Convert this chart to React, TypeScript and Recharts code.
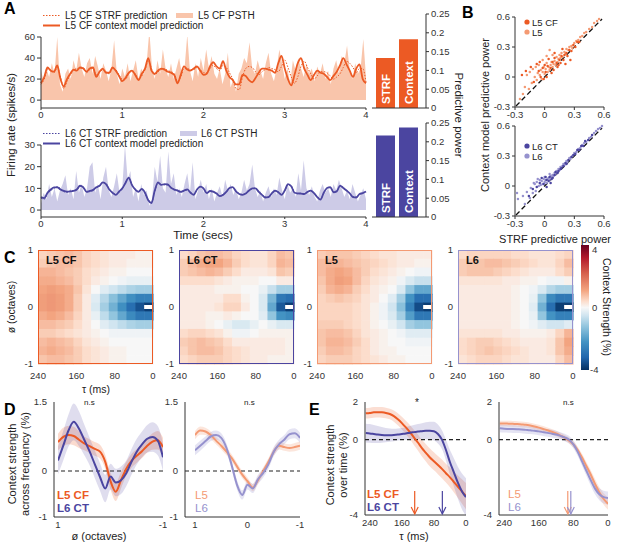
import React from "react";
import {
  ComposedChart,
  Line,
  Area,
  XAxis,
  YAxis,
  BarChart,
  Bar,
  LabelList,
  ScatterChart,
  Scatter,
  ReferenceLine,
  ReferenceDot,
} from "recharts";

const FONT = "'Liberation Sans', Arial, sans-serif";
const TICK = { fontSize: 9.5, fill: "#333", fontFamily: FONT };
const AX = "#333";

const C_L5CF = "#EC5A24";
const C_L5 = "#F49A73";
const C_L6CT = "#4B45A0";
const C_L6 = "#9692CE";
const C_PSTH5 = "#F9C5AB";
const C_PSTH6 = "#CDCBE7";

// ---- panel A: traces (PSTH every 1/30 s, predictions every 40 ms) ----
const PSTH_DT = 1 / 30;
const PRED_DT = 0.04;
const TIME_TICKS = [0, 1, 2, 3, 4];

const l5Psth = [
  28, 18, 30, 22, 35, 25, 60, 15, 8, 25, 30, 20, 38, 28, 45, 30, 22, 35, 40, 25,
  42, 32, 20, 35, 28, 18, 30, 57, 25, 15, 30, 22, 35, 18, 28, 38, 20, 30, 24, 35,
  66, 30, 20, 38, 25, 48, 30, 22, 35, 20, 30, 40, 25, 30, 62, 28, 18, 35, 22, 40,
  28, 48, 30, 42, 25, 20, 30, 15, 25, 45, 12, 20, 8, 25, 30, 40, 35, 55, 30, 25,
  38, 28, 20, 35, 45, 25, 18, 30, 48, 35, 20, 30, 15, 38, 28, 40, 30, 22, 35, 25,
  30, 18, 32, 25, 35, 20, 28, 15, 30, 38, 25, 42, 35, 52, 28, 20, 35, 25, 30, 58,
  22,
];
const l5Context = [
  16, 22, 31, 28, 27, 33, 20, 13, 20, 25, 29, 28, 31, 30, 27, 30, 31, 22, 27, 30,
  26, 26, 31, 28, 23, 18, 21, 26, 28, 24, 19, 25, 30, 40, 28, 25, 28, 30, 29, 27,
  26, 24, 16, 24, 32, 29, 28, 30, 32, 28, 24, 25, 32, 36, 32, 30, 37, 28, 22, 19,
  15, 15, 24, 23, 19, 17, 21, 26, 30, 30, 29, 28, 26, 35, 42, 30, 20, 14, 24, 35,
  40, 30, 24, 19, 24, 28, 26, 25, 22, 19, 23, 27, 33, 40, 34, 28, 22, 30, 34, 20,
  16,
];
const l5Strf = [
  15, 20, 29, 29, 26, 31, 22, 11, 18, 24, 28, 30, 30, 31, 26, 29, 30, 24, 26, 29,
  27, 25, 30, 29, 24, 20, 20, 25, 27, 25, 20, 23, 29, 37, 30, 24, 27, 29, 30, 28,
  27, 25, 18, 22, 30, 30, 29, 29, 31, 29, 26, 26, 30, 33, 30, 28, 33, 31, 26, 20,
  11, 10, 22, 30, 32, 31, 27, 24, 27, 29, 31, 30, 29, 27, 32, 38, 31, 22, 16, 22,
  32, 37, 31, 25, 20, 23, 27, 27, 26, 23, 20, 22, 25, 31, 37, 35, 31, 26, 30, 30,
  17,
];
const l6Psth = [
  3, 8, 5, 12, 6, 10, 4, 9, 12, 16, 7, 10, 5, 18, 8, 12, 6, 10, 20, 22,
  8, 12, 5, 15, 20, 9, 6, 11, 17, 8, 10, 30, 14, 18, 6, 10, 4, 12, 7, 9,
  2, 5, 20, 13, 25, 10, 8, 27, 12, 17, 7, 10, 6, 12, 17, 8, 22, 5, 9, 14,
  8, 12, 5, 10, 4, 8, 11, 6, 14, 9, 12, 7, 10, 5, 8, 14, 9, 12, 21, 10,
  6, 9, 4, 8, 11, 6, 10, 7, 15, 9, 5, 12, 8, 10, 6, 17, 9, 23, 10, 7,
  11, 6, 4, 9, 12, 8, 10, 6, 12, 9, 14, 10, 6, 9, 5, 12, 8, 4, 7, 10,
  5,
];
const l6Context = [
  6, 5.5, 8, 9.5, 10.5, 10.5, 9.5, 8.8, 8.5, 8.6, 8.8, 9.5, 11.2, 10.5, 8.4, 8.8, 9.2, 10.5, 11.2, 12.8,
  12, 9.5, 8, 7, 8.5, 10, 12.5, 15, 11.5, 9.5, 8.4, 9.8, 8, 4.5, 3.2, 9, 12.8, 11.6, 12, 11.8,
  10.3, 9.5, 9, 8.4, 9, 9.5, 8, 7, 9.5, 10.8, 10, 7.8, 8.8, 8.5, 7.6, 6.4, 7, 8.4, 10.2, 10.6,
  8.6, 7.4, 7, 7.6, 9, 10, 10, 8.4, 7, 5.8, 6, 7.7, 9, 8.2, 7, 9, 12, 11, 8, 7.7,
  7.6, 7.4, 8.4, 9, 7.8, 6, 4.8, 8, 10.2, 10.6, 8.2, 8.6, 11.3, 10.2, 9, 7.7, 6, 5.8, 7.4, 7.8,
  8.6,
];
const l6Strf = [
  5.5, 5, 7.5, 9, 10, 10.8, 9.8, 8.5, 8.2, 8.8, 9, 9.2, 11, 10.8, 8.6, 8.5, 9.5, 10.2, 11, 12.5,
  12.2, 9.8, 8.2, 7.2, 8.2, 9.8, 12.8, 14.6, 11.8, 9.2, 8.6, 9.5, 7.6, 4.8, 3.6, 8.6, 12.5, 11.8, 11.6, 11.5,
  10.5, 9.2, 9.2, 8.6, 8.8, 9.2, 8.2, 7.3, 9.2, 10.5, 10.2, 8, 8.6, 8.3, 7.8, 6.6, 7.2, 8.2, 10, 10.4,
  8.8, 7.6, 7.2, 7.4, 8.8, 9.8, 10.2, 8.6, 7.2, 6, 6.2, 7.5, 8.8, 8.4, 7.2, 8.8, 11.6, 11.2, 8.2, 7.5,
  7.8, 7.6, 8.2, 8.8, 8, 6.2, 5, 7.8, 10, 10.4, 8.4, 8.8, 11, 10.4, 9.2, 7.5, 6.2, 6, 7.2, 8,
  8.4,
];

// predictive power bars
const BAR_NAMES = ["STRF", "Context"];
const l5Power = [0.133, 0.183];
const l6Power = [0.217, 0.238];
const POWER_TICKS = [0, 0.05, 0.1, 0.15, 0.2, 0.25];

// ---- panel B: STRF vs context predictive power ----
const PP_TICKS = [-0.3, 0, 0.3, 0.6];
const l5Points = [
  [-0.22, -0.17], [-0.2, -0.1], [-0.18, 0.02], [-0.15, 0.05], [-0.13, -0.06], [-0.12, 0.08], [-0.1, 0.0],
  [-0.09, 0.1], [-0.08, -0.03], [-0.07, 0.04], [-0.06, 0.12], [-0.05, 0.02], [-0.04, 0.07], [-0.03, -0.02],
  [-0.02, 0.05], [-0.01, 0.1], [0.0, 0.03], [0.01, 0.08], [0.02, 0.14], [0.03, 0.05], [0.04, 0.1],
  [0.05, 0.07], [0.06, 0.12], [0.07, 0.15], [0.08, 0.1], [0.09, 0.13], [0.1, 0.16], [0.11, 0.12],
  [0.12, 0.2], [0.13, 0.15], [0.14, 0.18], [0.15, 0.22], [0.16, 0.19], [0.17, 0.24], [0.18, 0.2],
  [0.2, 0.25], [0.21, 0.23], [0.22, 0.28], [0.24, 0.27], [0.25, 0.3], [0.27, 0.31], [0.28, 0.29],
  [0.3, 0.34], [0.32, 0.36], [0.34, 0.37], [0.36, 0.4], [0.38, 0.41], [0.4, 0.44], [0.42, 0.45],
  [0.45, 0.48], [0.48, 0.5], [0.5, 0.54], [0.53, 0.56], [0.55, 0.58], [-0.25, -0.22], [-0.16, -0.12],
  [0.08, 0.22], [0.02, 0.21], [-0.02, 0.17], [0.05, 0.27],
];
const l5cfPoints = [
  [-0.23, 0.02], [-0.19, 0.06], [-0.14, 0.1], [-0.11, -0.05], [-0.08, 0.13], [-0.06, 0.06], [-0.04, 0.0],
  [-0.02, 0.09], [0.0, 0.12], [0.01, 0.05], [0.03, 0.11], [0.04, 0.18], [0.06, 0.09], [0.08, 0.15],
  [0.09, 0.07], [0.1, 0.19], [0.12, 0.14], [0.13, 0.1], [0.15, 0.17], [0.17, 0.21], [0.19, 0.17],
  [0.2, 0.22], [0.22, 0.24], [0.23, 0.21], [0.25, 0.27], [0.27, 0.26], [0.29, 0.32], [0.31, 0.3],
  [0.33, 0.35], [0.35, 0.35], [0.21, 0.13], [0.26, 0.17], [0.18, 0.28], [0.1, 0.24], [-0.05, 0.15],
  [0.07, 0.04], [0.02, 0.0], [-0.01, -0.02], [0.14, 0.12], [0.16, 0.14],
];
const l6Points = [
  [-0.28, -0.07], [-0.27, -0.13], [-0.22, -0.1], [-0.2, -0.18], [-0.18, -0.06], [-0.15, -0.12], [-0.14, -0.02],
  [-0.12, -0.07], [-0.1, 0.02], [-0.09, -0.05], [-0.08, 0.04], [-0.06, 0.0], [-0.05, 0.06], [-0.04, 0.01],
  [-0.03, 0.05], [-0.02, 0.02], [-0.01, 0.07], [0.0, 0.04], [0.01, 0.06], [0.02, 0.03], [0.03, 0.07],
  [0.04, 0.08], [0.05, 0.06], [0.06, 0.1], [0.07, 0.09], [0.08, 0.11], [0.09, 0.1], [0.1, 0.13],
  [0.11, 0.12], [0.12, 0.15], [0.13, 0.14], [0.14, 0.17], [0.15, 0.16], [0.16, 0.19], [0.18, 0.2],
  [0.19, 0.22], [0.2, 0.21], [0.22, 0.25], [0.23, 0.24], [0.25, 0.28], [0.26, 0.27], [0.28, 0.3],
  [0.3, 0.33], [0.32, 0.34], [0.34, 0.37], [0.36, 0.38], [0.38, 0.41], [0.4, 0.43], [0.42, 0.44],
  [0.45, 0.48], [0.47, 0.49], [0.5, 0.53], [0.52, 0.55], [0.54, 0.57], [0.56, 0.58], [0.58, 0.6],
  [-0.07, 0.07], [0.0, 0.09], [0.05, 0.12], [-0.11, 0.03],
];
const l6ctPoints = [
  [-0.16, -0.1], [-0.12, -0.03], [-0.08, -0.01], [-0.05, 0.03], [-0.03, 0.08], [-0.01, 0.02], [0.01, 0.09],
  [0.02, 0.06], [0.04, 0.05], [0.05, 0.09], [0.07, 0.07], [0.08, 0.08], [0.1, 0.11], [0.11, 0.14],
  [0.13, 0.13], [0.14, 0.15], [0.16, 0.17], [0.17, 0.18], [0.19, 0.2], [0.21, 0.23], [0.22, 0.22],
  [0.24, 0.26], [0.27, 0.29], [0.29, 0.31], [0.31, 0.32], [0.33, 0.36], [0.35, 0.36], [0.37, 0.4],
  [0.39, 0.4], [0.41, 0.45], [0.44, 0.46], [0.48, 0.51], [0.02, -0.01], [0.06, 0.03],
];

// ---- panel C: context weights, rows phi 1 -> -1, cols tau 240 -> 0 ms ----
const TAU_TICKS = [240, 160, 80, 0];
const heatL5cf = [
  [0.5, 0.6, 0.7, 0.8, 0.7, 0.5, 0.4, 0.3, 0.2, 0.2, 0.2, 0.1, 0.1],
  [0.6, 0.7, 0.8, 0.8, 0.7, 0.5, 0.4, 0.3, 0.2, 0.2, 0.1, 0.1, 0.1],
  [0.9, 0.9, 0.8, 0.7, 0.6, 0.4, 0.3, 0.2, 0.1, 0.1, 0.0, 0.0, 0.0],
  [1.0, 1.0, 0.9, 0.8, 0.6, 0.4, 0.2, 0.1, 0.0, -0.1, -0.2, -0.2, -0.2],
  [1.1, 1.2, 1.1, 1.0, 0.7, 0.3, 0.0, -0.3, -0.5, -0.7, -0.9, -1.0, -1.0],
  [1.2, 1.3, 1.2, 1.0, 0.6, 0.2, -0.3, -0.8, -1.3, -1.8, -2.3, -2.6, -2.6],
  [1.2, 1.3, 1.2, 1.0, 0.6, 0.2, -0.4, -1.0, -1.6, -2.3, -3.0, -3.5, -3.8],
  [1.0, 1.1, 1.0, 0.8, 0.5, 0.2, -0.2, -0.7, -1.2, -1.8, -2.4, -2.8, -2.8],
  [0.8, 0.8, 0.7, 0.6, 0.4, 0.2, 0.0, -0.3, -0.5, -0.7, -0.9, -1.0, -1.0],
  [0.6, 0.6, 0.5, 0.4, 0.3, 0.2, 0.1, 0.0, -0.1, -0.1, -0.1, -0.1, -0.1],
  [0.8, 0.9, 0.8, 0.7, 0.5, 0.3, 0.2, 0.1, 0.0, 0.0, 0.0, 0.0, 0.0],
  [0.9, 1.0, 0.9, 0.8, 0.6, 0.4, 0.3, 0.2, 0.1, 0.1, 0.0, 0.0, 0.0],
  [0.7, 0.8, 0.8, 0.7, 0.6, 0.4, 0.3, 0.2, 0.1, 0.1, 0.0, 0.0, 0.0],
];
const heatL6ct = [
  [0.4, 0.5, 0.7, 0.8, 0.8, 0.7, 0.5, 0.4, 0.3, 0.3, 0.5, 0.8, 0.7],
  [0.6, 0.8, 1.0, 1.1, 1.1, 0.9, 0.6, 0.4, 0.3, 0.3, 0.5, 0.9, 0.8],
  [0.6, 0.7, 0.8, 0.9, 0.8, 0.6, 0.4, 0.2, 0.2, 0.2, 0.3, 0.7, 0.6],
  [0.4, 0.4, 0.4, 0.4, 0.3, 0.2, 0.1, 0.1, 0.1, 0.0, 0.0, 0.2, 0.2],
  [0.2, 0.2, 0.2, 0.2, 0.1, 0.1, 0.1, 0.0, 0.0, -0.2, -0.6, -1.0, -1.0],
  [0.2, 0.2, 0.2, 0.2, 0.2, 0.4, 0.4, 0.1, 0.0, -0.4, -1.5, -2.8, -3.0],
  [0.2, 0.2, 0.2, 0.2, 0.3, 0.5, 0.5, 0.2, 0.0, -0.4, -1.8, -3.4, -3.8],
  [0.2, 0.2, 0.2, 0.1, 0.1, 0.2, 0.1, 0.0, 0.0, -0.3, -1.2, -2.2, -2.4],
  [0.2, 0.2, 0.2, 0.1, 0.0, -0.2, -0.4, -0.4, -0.2, 0.0, -0.2, -0.4, -0.4],
  [0.4, 0.5, 0.5, 0.4, 0.3, 0.1, -0.1, -0.1, 0.0, 0.1, 0.1, 0.1, 0.1],
  [0.6, 0.7, 0.8, 0.7, 0.6, 0.4, 0.2, 0.2, 0.2, 0.2, 0.2, 0.2, 0.1],
  [0.5, 0.7, 0.8, 0.8, 0.7, 0.5, 0.4, 0.3, 0.2, 0.2, 0.2, 0.2, 0.1],
  [0.4, 0.5, 0.6, 0.6, 0.6, 0.5, 0.4, 0.3, 0.2, 0.2, 0.1, 0.1, 0.1],
];
const heatL5 = [
  [0.6, 0.7, 0.7, 0.7, 0.6, 0.5, 0.4, 0.3, 0.3, 0.2, 0.2, 0.2, 0.2],
  [0.8, 0.9, 0.9, 0.8, 0.7, 0.6, 0.5, 0.4, 0.3, 0.2, 0.2, 0.1, 0.1],
  [0.8, 1.0, 1.1, 1.0, 0.8, 0.6, 0.4, 0.3, 0.2, 0.1, 0.0, -0.1, -0.1],
  [0.7, 1.0, 1.2, 1.1, 0.8, 0.5, 0.3, 0.2, 0.1, -0.1, -0.4, -0.6, -0.6],
  [0.6, 0.9, 1.0, 0.9, 0.6, 0.4, 0.2, 0.1, 0.0, -0.4, -1.2, -1.8, -1.8],
  [0.5, 0.6, 0.7, 0.6, 0.5, 0.3, 0.2, 0.0, -0.3, -1.0, -2.2, -3.0, -3.0],
  [0.5, 0.5, 0.5, 0.5, 0.4, 0.3, 0.1, -0.1, -0.5, -1.3, -2.6, -3.6, -3.8],
  [0.5, 0.5, 0.5, 0.5, 0.4, 0.3, 0.1, -0.1, -0.4, -1.0, -2.0, -2.8, -2.8],
  [0.6, 0.6, 0.6, 0.5, 0.4, 0.3, 0.1, 0.0, -0.2, -0.5, -1.0, -1.2, -1.2],
  [0.7, 0.8, 0.8, 0.7, 0.5, 0.3, 0.2, 0.1, 0.0, -0.1, -0.3, -0.3, -0.3],
  [0.7, 0.9, 0.9, 0.8, 0.6, 0.4, 0.2, 0.1, 0.0, 0.0, -0.1, -0.1, -0.1],
  [0.6, 0.8, 0.8, 0.7, 0.5, 0.4, 0.2, 0.1, 0.1, 0.0, 0.0, 0.0, 0.0],
  [0.5, 0.6, 0.6, 0.6, 0.5, 0.4, 0.3, 0.2, 0.1, 0.1, 0.0, 0.0, 0.0],
];
const heatL6 = [
  [0.4, 0.5, 0.5, 0.5, 0.5, 0.5, 0.4, 0.4, 0.3, 0.3, 0.3, 0.4, 0.5],
  [0.6, 0.7, 0.7, 0.8, 0.8, 0.7, 0.6, 0.5, 0.4, 0.3, 0.3, 0.5, 0.8],
  [0.6, 0.7, 0.7, 0.7, 0.6, 0.5, 0.4, 0.3, 0.2, 0.2, 0.2, 0.4, 0.6],
  [0.3, 0.3, 0.3, 0.3, 0.3, 0.2, 0.2, 0.1, 0.1, 0.0, -0.1, -0.1, 0.1],
  [0.2, 0.2, 0.2, 0.2, 0.2, 0.2, 0.1, 0.0, -0.1, -0.4, -0.8, -1.0, -1.0],
  [0.2, 0.2, 0.2, 0.2, 0.2, 0.2, 0.1, 0.0, -0.2, -1.2, -2.4, -2.8, -2.8],
  [0.2, 0.2, 0.2, 0.2, 0.2, 0.2, 0.1, 0.0, -0.3, -1.6, -3.0, -3.8, -3.8],
  [0.2, 0.2, 0.2, 0.2, 0.2, 0.2, 0.1, 0.0, -0.2, -1.2, -2.2, -2.6, -2.6],
  [0.2, 0.2, 0.2, 0.2, 0.2, 0.2, 0.1, 0.0, -0.1, -0.3, -0.5, -0.5, -0.3],
  [0.3, 0.3, 0.3, 0.3, 0.3, 0.2, 0.2, 0.1, 0.1, 0.1, 0.2, 0.5, 0.9],
  [0.4, 0.5, 0.6, 0.6, 0.5, 0.4, 0.3, 0.2, 0.2, 0.2, 0.3, 0.7, 1.1],
  [0.4, 0.5, 0.6, 0.7, 0.6, 0.5, 0.4, 0.3, 0.2, 0.2, 0.3, 0.7, 1.0],
  [0.3, 0.4, 0.5, 0.5, 0.5, 0.4, 0.3, 0.3, 0.2, 0.2, 0.2, 0.5, 0.8],
];

// ---- panel D: context strength across frequency ----
const PHI = [1, 0.9, 0.8, 0.7, 0.6, 0.5, 0.4, 0.3, 0.2, 0.1, 0, -0.1, -0.2, -0.3, -0.4, -0.5, -0.6, -0.7, -0.8, -0.9, -1];
const dL5cf = [0.63, 0.74, 0.78, 0.76, 0.68, 0.6, 0.54, 0.48, 0.42, 0.2, -0.22, -0.45, -0.2, 0.05, 0.22, 0.33, 0.43, 0.55, 0.64, 0.67, 0.52];
const dL5cfSem = [0.18, 0.2, 0.2, 0.2, 0.18, 0.15, 0.15, 0.15, 0.15, 0.15, 0.18, 0.2, 0.18, 0.15, 0.15, 0.15, 0.15, 0.15, 0.18, 0.2, 0.2];
const dL6ct = [0.23, 0.55, 0.88, 1.07, 0.92, 0.68, 0.43, 0.15, -0.13, -0.38, -0.12, -0.25, -0.2, -0.05, 0.2, 0.42, 0.58, 0.7, 0.74, 0.66, 0.3];
const dL6ctSem = [0.3, 0.32, 0.35, 0.4, 0.38, 0.33, 0.3, 0.3, 0.3, 0.3, 0.28, 0.3, 0.3, 0.28, 0.28, 0.28, 0.28, 0.3, 0.32, 0.32, 0.3];
const dL5 = [0.78, 0.88, 0.86, 0.78, 0.66, 0.55, 0.42, 0.28, 0.1, -0.08, -0.22, -0.36, -0.2, 0.0, 0.2, 0.42, 0.55, 0.52, 0.5, 0.52, 0.55];
const dL5Sem = [0.09, 0.09, 0.08, 0.08, 0.08, 0.08, 0.08, 0.08, 0.08, 0.08, 0.08, 0.08, 0.08, 0.08, 0.08, 0.08, 0.08, 0.08, 0.08, 0.09, 0.09];
const dL6 = [0.45, 0.55, 0.65, 0.75, 0.78, 0.72, 0.5, 0.12, -0.3, -0.52, -0.3, -0.38, -0.18, -0.04, 0.15, 0.42, 0.58, 0.68, 0.8, 0.82, 0.72];
const dL6Sem = [0.11, 0.11, 0.1, 0.1, 0.1, 0.1, 0.1, 0.1, 0.1, 0.1, 0.1, 0.1, 0.1, 0.1, 0.1, 0.1, 0.1, 0.1, 0.11, 0.11, 0.11];

// ---- panel E: context strength over time ----
const TAU = [250, 240, 230, 220, 210, 200, 190, 180, 170, 160, 150, 140, 130, 120, 110, 100, 90, 80, 70, 60, 50, 40, 30, 20, 10, 0];
const eL5cf = [1.4, 1.42, 1.45, 1.46, 1.45, 1.42, 1.36, 1.25, 1.08, 0.88, 0.65, 0.4, 0.12, -0.15, -0.45, -0.7, -0.95, -1.15, -1.35, -1.55, -1.78, -2.0, -2.25, -2.5, -2.75, -3.0];
const eL5cfSem = [0.28, 0.28, 0.28, 0.28, 0.28, 0.28, 0.28, 0.3, 0.32, 0.34, 0.36, 0.38, 0.4, 0.42, 0.44, 0.46, 0.48, 0.48, 0.48, 0.5, 0.5, 0.52, 0.55, 0.6, 0.65, 0.7];
const eL6ct = [0.35, 0.33, 0.3, 0.27, 0.25, 0.24, 0.24, 0.25, 0.27, 0.3, 0.33, 0.37, 0.4, 0.43, 0.45, 0.47, 0.47, 0.45, 0.3, 0.0, -0.55, -1.2, -1.75, -2.3, -2.75, -3.05];
const eL6ctSem = [0.5, 0.5, 0.48, 0.45, 0.42, 0.38, 0.35, 0.33, 0.32, 0.32, 0.33, 0.35, 0.38, 0.4, 0.42, 0.45, 0.48, 0.5, 0.5, 0.5, 0.55, 0.65, 0.75, 0.85, 0.95, 1.0];
const eL5 = [0.86, 0.86, 0.85, 0.84, 0.83, 0.81, 0.79, 0.75, 0.7, 0.64, 0.57, 0.5, 0.42, 0.33, 0.22, 0.1, -0.05, -0.25, -0.55, -0.95, -1.4, -1.85, -2.35, -2.8, -3.15, -3.4];
const eL5Sem = [0.15, 0.15, 0.15, 0.15, 0.15, 0.15, 0.15, 0.15, 0.15, 0.15, 0.15, 0.15, 0.15, 0.15, 0.15, 0.15, 0.15, 0.16, 0.18, 0.2, 0.22, 0.24, 0.26, 0.28, 0.3, 0.32];
const eL6 = [0.6, 0.58, 0.57, 0.56, 0.55, 0.54, 0.52, 0.5, 0.47, 0.44, 0.4, 0.36, 0.32, 0.27, 0.2, 0.12, 0.0, -0.25, -0.65, -1.15, -1.65, -2.15, -2.6, -2.9, -3.05, -3.1];
const eL6Sem = [0.2, 0.2, 0.2, 0.2, 0.2, 0.2, 0.2, 0.2, 0.2, 0.2, 0.2, 0.2, 0.2, 0.2, 0.2, 0.2, 0.2, 0.2, 0.22, 0.24, 0.26, 0.28, 0.3, 0.32, 0.34, 0.35];
// zero-crossing latencies (arrows)
const crossLeft = [128, 59];
const crossRight = [93, 86];

// ------------------------------------------------------------------
// diverging map (value, rgb); same stops feed the colour bar
const HEAT_STOPS: [number, number[]][] = [
  [-4, [5, 48, 97]],
  [-3.2, [33, 102, 172]],
  [-2.2, [67, 147, 195]],
  [-1.2, [146, 197, 222]],
  [-0.5, [209, 229, 240]],
  [0, [247, 247, 247]],
  [0.4, [252, 221, 204]],
  [1.1, [243, 164, 128]],
  [2.2, [214, 96, 77]],
  [3.2, [178, 24, 43]],
  [4, [103, 0, 31]],
];
function heatColor(v: number) {
  const x = Math.max(-4, Math.min(4, v));
  let i = 0;
  while (i < HEAT_STOPS.length - 2 && x > HEAT_STOPS[i + 1][0]) i++;
  const [v0, a] = HEAT_STOPS[i];
  const [v1, b] = HEAT_STOPS[i + 1];
  const f = (x - v0) / (v1 - v0);
  const c = a.map((q, k) => Math.round(q + (b[k] - q) * f));
  return `rgb(${c[0]},${c[1]},${c[2]})`;
}
const COLORBAR_BG =
  "linear-gradient(to top, " +
  HEAT_STOPS.map(([v, c]) => `rgb(${c[0]},${c[1]},${c[2]}) ${((v + 4) / 8) * 100}%`).join(", ") +
  ")";

function TraceChart({ top, height, psth, strf, ctx, psthColor, color, yDomain, yTicks }: any) {
  const psthData = psth.map((v: number, i: number) => ({ t: i * PSTH_DT, v }));
  const strfData = strf.map((v: number, i: number) => ({ t: i * PRED_DT, v }));
  const ctxData = ctx.map((v: number, i: number) => ({ t: i * PRED_DT, v }));
  return (
    <div style={{ position: "absolute", left: 11, top }}>
      <ComposedChart width={362} height={height} margin={{ top: 5, right: 7, bottom: 0, left: 0 }}>
        <XAxis type="number" dataKey="t" domain={[0, 4]} ticks={TIME_TICKS} height={20} tickSize={2} tickMargin={1} tick={TICK} stroke={AX} interval={0} />
        <YAxis type="number" domain={yDomain} ticks={yTicks} width={30} tickSize={4} tick={TICK} stroke={AX} interval={0} allowDataOverflow />
        <Area data={psthData} dataKey="v" type="linear" stroke="none" fill={psthColor} fillOpacity={1} isAnimationActive={false} />
        <Line data={strfData} dataKey="v" type="monotone" stroke={color} strokeWidth={1} strokeDasharray="1.5 1.5" dot={false} isAnimationActive={false} />
        <Line data={ctxData} dataKey="v" type="monotone" stroke={color} strokeWidth={1.8} dot={false} isAnimationActive={false} />
      </ComposedChart>
    </div>
  );
}

const BarText = (p: any) => {
  const cx = p.x + p.width / 2;
  const by = p.y + p.height - 4;
  return (
    <text x={cx} y={by} transform={`rotate(-90 ${cx} ${by})`} fill="#fff" fontSize={11.5} fontWeight="bold" fontFamily={FONT} dominantBaseline="central" textAnchor="start">
      {p.value}
    </text>
  );
};

function PowerBars({ top, values, color }: any) {
  const data = BAR_NAMES.map((name, i) => ({ name, v: values[i] }));
  return (
    <div style={{ position: "absolute", left: 372, top }}>
      <BarChart width={88} height={107} data={data} margin={{ top: 5, right: 0, bottom: 7, left: 0 }}>
        <XAxis dataKey="name" tick={false} tickLine={false} height={1} padding={{ left: 2, right: 6 }} stroke={AX} />
        <YAxis orientation="right" domain={[0, 0.25]} ticks={POWER_TICKS} width={34} tickSize={3} tick={TICK} stroke={AX} interval={0} />
        <Bar dataKey="v" fill={color} barSize={19} isAnimationActive={false}>
          <LabelList dataKey="name" content={BarText} />
        </Bar>
      </BarChart>
    </div>
  );
}

const dotShape = (color: string) => (p: any) => <circle cx={p.cx} cy={p.cy} r={1.25} fill={color} />;

function PowerScatter({ top, light, dark, lightColor, darkColor }: any) {
  const toXY = (pts: number[][]) => pts.map(([x, y]) => ({ x, y }));
  return (
    <div style={{ position: "absolute", left: 491, top }}>
      <ScatterChart width={123} height={109} margin={{ top: 5, right: 10, bottom: 0, left: 0 }}>
        <XAxis type="number" dataKey="x" domain={[-0.3, 0.6]} ticks={PP_TICKS} height={14} tickSize={3} tickMargin={1} tick={TICK} stroke={AX} interval={0} />
        <YAxis type="number" dataKey="y" domain={[-0.3, 0.6]} ticks={PP_TICKS} width={24} tickSize={3} tickMargin={2} tick={TICK} stroke={AX} interval={0} />
        <Scatter data={toXY(light)} shape={dotShape(lightColor)} isAnimationActive={false} />
        <Scatter data={toXY(dark)} shape={dotShape(darkColor)} isAnimationActive={false} />
        <ReferenceLine segment={[{ x: -0.29, y: -0.29 }, { x: 0.58, y: 0.58 }]} stroke="#111" strokeDasharray="5 3" strokeWidth={1.3} />
      </ScatterChart>
    </div>
  );
}

const NCOL = 13;
const NROW = 13;
const BOX_W = 115;
const BOX_H = 114;

function Heatmap({ x, y, grid, border, name }: any) {
  const cells: { tau: number; phi: number; v: number }[] = [];
  grid.forEach((row: number[], j: number) =>
    row.forEach((v, i) => cells.push({ tau: 240 - ((i + 0.5) * 240) / NCOL, phi: 1 - ((j + 0.5) * 2) / NROW, v }))
  );
  const notch = [{ tau: 240 - (12.5 * 240) / NCOL, phi: 0 }];
  const cw = BOX_W / NCOL;
  const ch = BOX_H / NROW;
  return (
    <>
      <div style={{ position: "absolute", left: x - 18, top: y - 7 }}>
        <ScatterChart width={18 + BOX_W + 8} height={7 + BOX_H + 20} margin={{ top: 7, right: 8, bottom: 0, left: 0 }}>
          <XAxis type="number" dataKey="tau" domain={[0, 240]} reversed ticks={TAU_TICKS} height={20} axisLine={false} tickLine={false} tickSize={4} tickMargin={4} tick={TICK} interval={0} />
          <YAxis type="number" dataKey="phi" domain={[-1, 1]} ticks={[1, 0, -1]} width={18} axisLine={false} tickLine={false} tickSize={3} tick={TICK} interval={0} />
          <Scatter
            data={cells}
            isAnimationActive={false}
            shape={(p: any) => <rect x={p.cx - cw / 2} y={p.cy - ch / 2} width={cw + 0.6} height={ch + 0.6} fill={heatColor(p.payload.v)} />}
          />
          <Scatter data={notch} isAnimationActive={false} shape={(p: any) => <rect x={p.cx - cw / 2} y={p.cy - 2} width={cw} height={4} fill="#fff" />} />
        </ScatterChart>
      </div>
      <div style={{ position: "absolute", left: x, top: y, width: BOX_W, height: BOX_H, border: `1.5px solid ${border}`, boxSizing: "border-box" }} />
      <div style={{ position: "absolute", left: x + 8, top: y + 4, font: `bold 11px ${FONT}`, color: "#111" }}>{name}</div>
    </>
  );
}

const Arrow = ({ cx, cy, color }: any) => (
  <g stroke={color} strokeWidth={1.2} fill="none">
    <line x1={cx} y1={cy - 1} x2={cx} y2={cy - 24} />
    <polyline points={`${cx - 3.5},${cy - 8} ${cx},${cy - 1} ${cx + 3.5},${cy - 8}`} />
  </g>
);

function CurveChart({ left, top, width, height, xs, curves, xDomain, xTicks, xPad, yDomain, yTicks, arrows }: any) {
  const rows = xs.map((x: number, i: number) => {
    const row: Record<string, any> = { x };
    curves.forEach((c: any, k: number) => {
      row["m" + k] = c.mean[i];
      row["b" + k] = [c.mean[i] - c.sem[i], c.mean[i] + c.sem[i]];
    });
    return row;
  });
  return (
    <div style={{ position: "absolute", left, top: top - 6 }}>
      <ComposedChart width={width} height={height + 6} data={rows} margin={{ top: 10, right: 4, bottom: 0, left: 0 }}>
        <XAxis type="number" dataKey="x" domain={xDomain} reversed ticks={xTicks} padding={{ left: xPad, right: 0 }} height={16} tickLine={false} tickSize={2} tickMargin={2} tick={TICK} stroke={AX} interval={0} allowDataOverflow />
        <YAxis type="number" domain={yDomain} ticks={yTicks} width={22} tickLine={false} tickSize={4} tickMargin={3} tick={TICK} stroke={AX} interval={0} allowDataOverflow />
        <ReferenceLine y={0} stroke="#222" strokeDasharray="4 3" strokeWidth={1.1} />
        {curves.map((c: any, k: number) => (
          <Area key={"a" + k} dataKey={"b" + k} type="monotone" stroke="none" fill={c.color} fillOpacity={c.band} isAnimationActive={false} />
        ))}
        {curves.map((c: any, k: number) => (
          <Line key={"l" + k} dataKey={"m" + k} type="monotone" stroke={c.color} strokeWidth={2} dot={false} isAnimationActive={false} />
        ))}
        {(arrows || []).map((a: any, k: number) => (
          <ReferenceDot key={"r" + k} x={a.x} y={yDomain[0]} r={0} ifOverflow="visible" shape={(p: any) => <Arrow cx={p.cx} cy={p.cy} color={a.color} />} />
        ))}
      </ComposedChart>
    </div>
  );
}

function Txt({ x, y, size = 10, weight, color = "#222", anchor = "start", rotate, children }: any) {
  return (
    <text
      x={x}
      y={y}
      fontSize={size}
      fontWeight={weight}
      fill={color}
      textAnchor={anchor}
      fontFamily={FONT}
      dominantBaseline={rotate ? "central" : undefined}
      transform={rotate ? `rotate(${rotate} ${x} ${y})` : undefined}
    >
      {children}
    </text>
  );
}

function Overlay() {
  return (
    <svg width={617} height={544} style={{ position: "absolute", left: 0, top: 0, pointerEvents: "none" }}>
      {/* panel letters */}
      <Txt x={4} y={14} size={16} weight="bold" color="#000">A</Txt>
      <Txt x={462} y={18} size={16} weight="bold" color="#000">B</Txt>
      <Txt x={4} y={263} size={16} weight="bold" color="#000">C</Txt>
      <Txt x={4} y={415} size={16} weight="bold" color="#000">D</Txt>
      <Txt x={309} y={415} size={16} weight="bold" color="#000">E</Txt>

      {/* A legends */}
      <line x1={43} x2={60} y1={15.5} y2={15.5} stroke={C_L5CF} strokeWidth={1.2} strokeDasharray="1.5 1.5" />
      <Txt x={65} y={19}>L5 CF STRF prediction</Txt>
      <rect x={176} y={13} width={17} height={5} fill={C_PSTH5} />
      <Txt x={198} y={19}>L5 CF PSTH</Txt>
      <line x1={43} x2={60} y1={25.5} y2={25.5} stroke={C_L5CF} strokeWidth={2} />
      <Txt x={65} y={29}>L5 CF context model prediction</Txt>

      <line x1={43} x2={60} y1={133.5} y2={133.5} stroke={C_L6CT} strokeWidth={1.2} strokeDasharray="1.5 1.5" />
      <Txt x={65} y={137}>L6 CT STRF prediction</Txt>
      <rect x={180} y={131} width={17} height={5} fill={C_PSTH6} />
      <Txt x={201} y={137}>L6 CT PSTH</Txt>
      <line x1={43} x2={60} y1={143.5} y2={143.5} stroke={C_L6CT} strokeWidth={2} />
      <Txt x={65} y={147}>L6 CT context model prediction</Txt>

      <Txt x={11} y={125} size={11.5} anchor="middle" rotate={-90}>Firing rate (spikes/s)</Txt>
      <Txt x={459} y={115} size={11.5} anchor="middle" rotate={90}>Predictive power</Txt>
      <Txt x={203} y={239} size={11.5} anchor="middle">Time (secs)</Txt>

      {/* B */}
      <circle cx={527} cy={22} r={2.6} fill={C_L5CF} />
      <Txt x={532} y={25.5} size={9.5}>L5 CF</Txt>
      <circle cx={527} cy={32} r={2.6} fill={C_L5} />
      <Txt x={532} y={35.5} size={9.5}>L5</Txt>
      <circle cx={527} cy={146} r={2.6} fill={C_L6CT} />
      <Txt x={532} y={149.5} size={9.5}>L6 CT</Txt>
      <circle cx={527} cy={156} r={2.6} fill={C_L6} />
      <Txt x={532} y={159.5} size={9.5}>L6</Txt>
      <Txt x={485} y={115} size={11} anchor="middle" rotate={-90}>Context model predictive power</Txt>
      <Txt x={555} y={243} size={11} anchor="middle">STRF predictive power</Txt>

      {/* C */}
      <Txt x={11} y={307} size={10.5} anchor="middle" rotate={-90}>ø (octaves)</Txt>
      <Txt x={96} y={393} size={10.5} anchor="middle">τ (ms)</Txt>
      <Txt x={592} y={253} size={9.5} color="#333">4</Txt>
      <Txt x={592} y={311} size={9.5} color="#333">0</Txt>
      <Txt x={590} y={373} size={9.5} color="#333">-4</Txt>
      <Txt x={607} y={307} size={10.5} anchor="middle" rotate={90}>Context Strength (%)</Txt>

      {/* D */}
      <Txt x={12} y={464} size={11} anchor="middle" rotate={-90}>Context strength</Txt>
      <Txt x={25} y={464} size={11} anchor="middle" rotate={-90}>across frequency (%)</Txt>
      <Txt x={99} y={540} size={11} anchor="middle">ø (octaves)</Txt>
      <Txt x={84} y={405} size={8}>n.s</Txt>
      <Txt x={244} y={405} size={8}>n.s</Txt>
      <Txt x={57} y={499} size={11.5} weight="bold" color={C_L5CF}>L5 CF</Txt>
      <Txt x={57} y={512} size={11.5} weight="bold" color={C_L6CT}>L6 CT</Txt>
      <Txt x={195} y={499} size={11.5} color={C_L5}>L5</Txt>
      <Txt x={195} y={512} size={11.5} color={C_L6}>L6</Txt>

      {/* E */}
      <Txt x={330} y={465} size={11} anchor="middle" rotate={-90}>Context strength</Txt>
      <Txt x={343} y={465} size={11} anchor="middle" rotate={-90}>over time (%)</Txt>
      <Txt x={414} y={540} size={11} anchor="middle">τ (ms)</Txt>
      <Txt x={415} y={406} size={10}>*</Txt>
      <Txt x={563} y={405} size={8}>n.s</Txt>
      <Txt x={367} y={498} size={11.5} weight="bold" color={C_L5CF}>L5 CF</Txt>
      <Txt x={367} y={511} size={11.5} weight="bold" color={C_L6CT}>L6 CT</Txt>
      <Txt x={508} y={498} size={11.5} color={C_L5}>L5</Txt>
      <Txt x={508} y={511} size={11.5} color={C_L6}>L6</Txt>
    </svg>
  );
}

export default function App() {
  return (
    <div style={{ position: "absolute", left: 0, top: 0, width: 617, height: 544, background: "#fff", fontFamily: FONT }}>
      <TraceChart top={32} height={96} psth={l5Psth} strf={l5Strf} ctx={l5Context} psthColor={C_PSTH5} color={C_L5CF} yDomain={[-7.5, 60]} yTicks={[0, 20, 40, 60]} />
      <TraceChart top={140} height={97} psth={l6Psth} strf={l6Strf} ctx={l6Context} psthColor={C_PSTH6} color={C_L6CT} yDomain={[-3.2, 30]} yTicks={[0, 10, 20, 30]} />
      <PowerBars top={9} values={l5Power} color={C_L5CF} />
      <PowerBars top={118} values={l6Power} color={C_L6CT} />

      <PowerScatter top={12} light={l5Points} dark={l5cfPoints} lightColor={C_L5} darkColor={C_L5CF} />
      <PowerScatter top={121} light={l6Points} dark={l6ctPoints} lightColor={C_L6} darkColor={C_L6CT} />

      <Heatmap x={38} y={250} grid={heatL5cf} border={C_L5CF} name="L5 CF" />
      <Heatmap x={179} y={250} grid={heatL6ct} border={C_L6CT} name="L6 CT" />
      <Heatmap x={317} y={250} grid={heatL5} border={C_L5} name="L5" />
      <Heatmap x={458} y={250} grid={heatL6} border={C_L6} name="L6" />
      <div style={{ position: "absolute", left: 581, top: 245, width: 8, height: 125, background: COLORBAR_BG }} />

      <CurveChart
        left={32} top={398} width={135} height={135} xs={PHI}
        curves={[
          { mean: dL5cf, sem: dL5cfSem, color: C_L5CF, band: 0.22 },
          { mean: dL6ct, sem: dL6ctSem, color: C_L6CT, band: 0.18 },
        ]}
        xDomain={[-1, 1]} xTicks={[1, -1]} xPad={4} yDomain={[-1, 1.5]} yTicks={[-1, 0, 1.5]}
      />
      <CurveChart
        left={163} top={398} width={141} height={135} xs={PHI}
        curves={[
          { mean: dL5, sem: dL5Sem, color: C_L5, band: 0.25 },
          { mean: dL6, sem: dL6Sem, color: C_L6, band: 0.25 },
        ]}
        xDomain={[-1, 1]} xTicks={[1, 0, -1]} xPad={10} yDomain={[-1, 1.5]} yTicks={[-1, 0, 1.5]}
      />
      <CurveChart
        left={343} top={398} width={127} height={133} xs={TAU}
        curves={[
          { mean: eL5cf, sem: eL5cfSem, color: C_L5CF, band: 0.2 },
          { mean: eL6ct, sem: eL6ctSem, color: C_L6CT, band: 0.18 },
        ]}
        xDomain={[0, 252]} xTicks={TAU_TICKS} xPad={0} yDomain={[-4, 2]} yTicks={[-4, 0, 2]}
        arrows={[{ x: crossLeft[0], color: C_L5CF }, { x: crossLeft[1], color: C_L6CT }]}
      />
      <CurveChart
        left={477} top={398} width={135} height={133} xs={TAU}
        curves={[
          { mean: eL5, sem: eL5Sem, color: C_L5, band: 0.25 },
          { mean: eL6, sem: eL6Sem, color: C_L6, band: 0.25 },
        ]}
        xDomain={[0, 252]} xTicks={TAU_TICKS} xPad={0} yDomain={[-4, 2]} yTicks={[-4, 0, 2]}
        arrows={[{ x: crossRight[0], color: C_L5 }, { x: crossRight[1], color: C_L6 }]}
      />
      <Overlay />
    </div>
  );
}
